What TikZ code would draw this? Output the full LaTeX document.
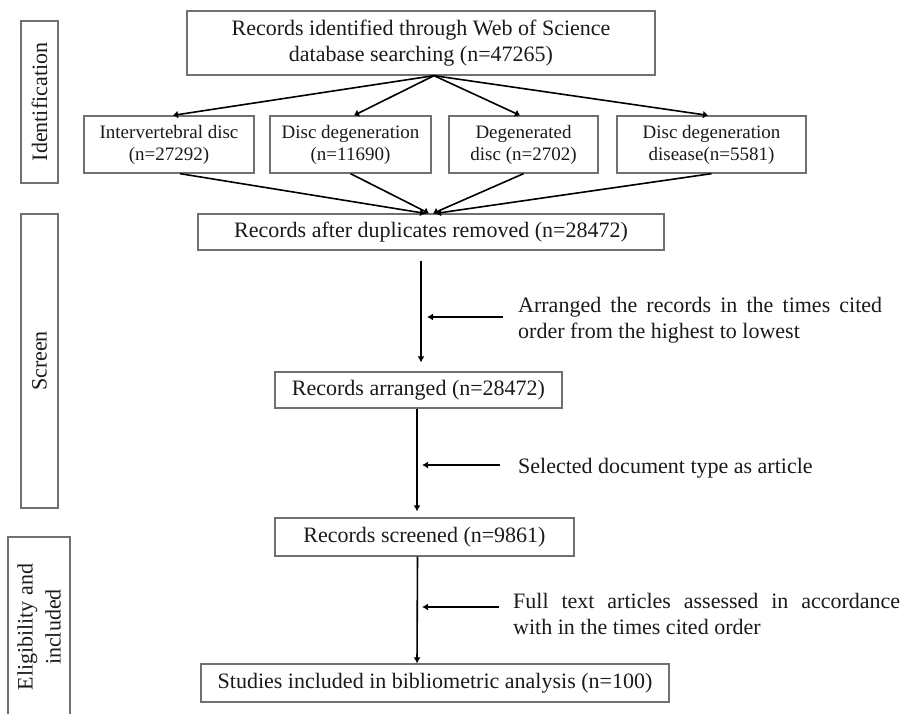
\documentclass[tikz,border=0pt]{standalone}
\usepackage{fontspec}
\setmainfont{Liberation Serif}
\usetikzlibrary{arrows.meta,calc}
\definecolor{boxgray}{HTML}{707070}
\definecolor{inkcol}{HTML}{1A1A1A}
\tikzset{
  box/.style={draw=boxgray, line width=1.3pt, inner sep=0pt, text=inkcol,
    font=\fontsize{22}{26}\selectfont, align=center},
  smallbox/.style={box, font=\fontsize{19}{22}\selectfont},
  phase/.style={box, rotate=90, font=\fontsize{22}{28}\selectfont},
  flow/.style={draw=black, line width=1.6pt, -{Latex[length=6pt,width=7pt]}},
  fanarrow/.style={draw=black, line width=1.6pt, -{Latex[length=5pt,width=8pt]}},
  note/.style={inner sep=0pt, text=inkcol, font=\fontsize{22}{26}\selectfont, align=left}
}
\begin{document}
\begin{tikzpicture}[x=1pt,y=-1pt]
\useasboundingbox (0,0) rectangle (902,713);

% phase labels
\node[phase, minimum width=162pt, minimum height=37pt] (idp) at (39.5,102) {Identification};
\node[phase, minimum width=294pt, minimum height=37pt] (scp) at (39.5,361) {Screen};
\node[phase, minimum width=180pt, minimum height=62pt] (elp) at (39,627) {Eligibility and\\included};

% boxes
\node[box, minimum width=468pt, minimum height=64pt] (top) at (421,43)
  {Records identified through Web of Science\\database\ searching\ (n=47265)};
\node[smallbox, minimum width=170pt, minimum height=57pt] (b1) at (169,144.5) {Intervertebral disc\\(n=27292)};
\node[smallbox, minimum width=161pt, minimum height=57pt] (b2) at (350.5,144.5) {Disc degeneration\\(n=11690)};
\node[smallbox, minimum width=149pt, minimum height=57pt] (b3) at (523.5,144.5) {Degenerated\\disc (n=2702)};
\node[smallbox, minimum width=189pt, minimum height=57pt] (b4) at (711.5,144.5) {Disc degeneration\\disease(n=5581)};
\node[box, minimum width=466pt, minimum height=36pt] (dup) at (431,232) {Records after duplicates removed (n=28472)};
\node[box, minimum width=287pt, minimum height=36pt] (arr) at (418.5,390) {Records arranged (n=28472)};
\node[box, minimum width=299pt, minimum height=38pt] (scr) at (424.5,537) {Records screened (n=9861)};
\node[box, minimum width=468pt, minimum height=38pt] (stu) at (435,683) {Studies included in bibliometric analysis (n=100)};

% fan out
\coordinate (apex) at ([xshift=13pt]top.south);
\draw[fanarrow] (apex) -- ([xshift=4pt]b1.north);
\draw[fanarrow] (apex) -- ([xshift=3.5pt]b2.north);
\draw[fanarrow] (apex) -- ([xshift=-3.5pt]b3.north);
\draw[fanarrow] (apex) -- ([xshift=-3.5pt]b4.north);

% fan in
\draw[fanarrow] ([xshift=11pt]b1.south) -- ([xshift=-6pt]dup.north);
\draw[fanarrow] (b2.south) -- ([xshift=-2pt]dup.north);
\draw[fanarrow] (b3.south) -- ([xshift=2pt]dup.north);
\draw[fanarrow] (b4.south) -- ([xshift=5pt]dup.north);

% main flow
\draw[flow] ([xshift=-10pt,yshift=-10pt]dup.south) -- ([xshift=2.5pt,yshift=9pt]arr.north);
\draw[flow] ([xshift=-1.5pt]arr.south) -- ([xshift=-7.5pt,yshift=6pt]scr.north);
\draw[flow] ([xshift=-7pt]scr.south) -- ([xshift=-18pt]stu.north);

% side notes
\coordinate (n1s) at (503,317); \coordinate (n1e) at (427,317);
\coordinate (n2s) at (500,465); \coordinate (n2e) at (422,465);
\coordinate (n3s) at (499,607); \coordinate (n3e) at (422,607);
\draw[flow] (n1s) -- (n1e);
\draw[flow] (n2s) -- (n2e);
\draw[flow] (n3s) -- (n3e);

\node[note, anchor=north west] (n1) at (518,297)
  {\makebox[364pt][s]{Arranged the records in the times cited}\\order from the highest to lowest};
\node[note, anchor=base west] (n2) at (518,473) {Selected document type as article};
\node[note, anchor=north west] (n3) at (513,593)
  {\makebox[387pt][s]{Full text articles assessed in accordance}\\with in the times cited order};
\end{tikzpicture}
\end{document}
